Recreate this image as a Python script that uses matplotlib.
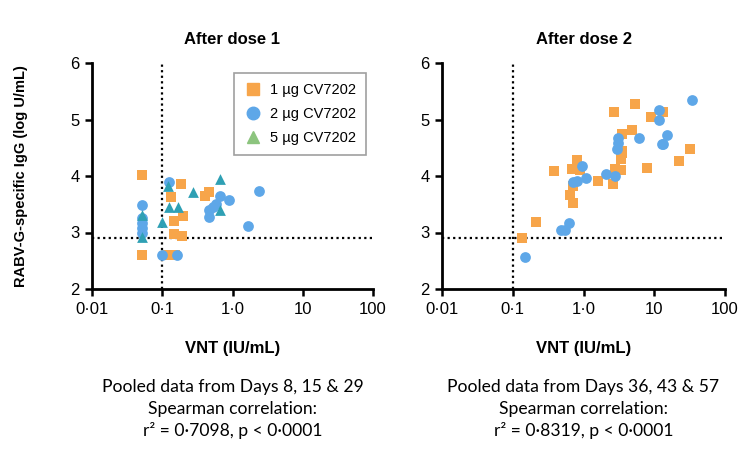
import matplotlib.pyplot as plt
from matplotlib.lines import Line2D

plt.rcParams['font.family'] = ['Liberation Sans', 'DejaVu Sans']

# After dose 1 (VNT IU/mL, log IgG)
d1_1ug_x = [0.051, 0.051, 0.134, 0.186, 0.145, 0.197, 0.145, 0.19, 0.112, 0.128, 0.15, 0.41, 0.46]
d1_1ug_y = [4.01, 2.6, 3.63, 3.86, 3.2, 3.29, 2.97, 2.94, 2.6, 2.6, 2.6, 3.65, 3.71]
d1_2ug_x = [0.051, 0.051, 0.051, 0.051, 0.051, 0.123, 0.1, 0.16, 0.46, 0.46, 0.53, 0.58,
            0.67, 0.88, 1.65, 2.4]
d1_2ug_y = [3.48, 3.26, 3.17, 3.08, 2.99, 3.89, 2.6, 2.6, 3.4, 3.27, 3.45, 3.5,
            3.65, 3.58, 3.12, 3.73]
d1_5ug_x = [0.051, 0.051, 0.1, 0.12, 0.123, 0.17, 0.27, 0.67, 0.67]
d1_5ug_y = [3.31, 2.92, 3.18, 3.82, 3.46, 3.46, 3.71, 3.94, 3.39]

# After dose 2
d2_1ug_x = [0.136, 0.215, 0.377, 0.65, 0.71, 0.72, 0.68, 0.81, 0.9, 1.58, 2.65, 2.74,
            2.8, 3.4, 3.4, 3.5, 3.5, 3.5, 4.9, 5.4, 7.8, 8.9, 13.5, 22.6, 32]
d2_1ug_y = [2.9, 3.19, 4.09, 3.66, 3.52, 3.82, 4.13, 4.28, 4.11, 3.92, 3.85, 5.14,
            4.12, 4.1, 4.3, 4.4, 4.45, 4.75, 4.82, 5.27, 4.14, 5.04, 5.13, 4.26, 4.47]
d2_2ug_x = [0.147, 0.48, 0.54, 0.62, 0.71, 0.81, 0.95, 1.09, 2.09, 2.8, 3.1, 3.1, 3.0,
            6.0, 11.8, 11.8, 13.5, 12.8, 15, 34.6]
d2_2ug_y = [2.57, 3.05, 3.05, 3.17, 3.9, 3.92, 4.17, 3.96, 4.04, 4.0, 4.68, 4.58, 4.47,
            4.67, 5.16, 5.0, 4.57, 4.57, 4.73, 5.34]

x_ticks = [0.01, 0.1, 1, 10, 100]
x_tick_labels = ['0·01', '0·1', '1·0', '10', '100']
y_ticks = [2, 3, 4, 5, 6]
lod_x = 0.1
lod_y = 2.9

c_orange = '#F7A54A'
c_blue = '#5EA7E8'
c_teal = '#2FA0B4'
c_green = '#8CC47E'

fig = plt.figure(figsize=(7.45, 4.5), dpi=100)
ax1 = fig.add_axes([92 / 745, 1 - 289 / 450, 281 / 745, 226 / 450])
ax2 = fig.add_axes([442 / 745, 1 - 289 / 450, 283 / 745, 226 / 450])


def style_axis(ax, title):
    ax.set_xscale('log')
    ax.set_xlim(0.01, 100)
    ax.set_ylim(2, 6)
    ax.set_xticks(x_ticks)
    ax.set_xticklabels(x_tick_labels)
    ax.minorticks_off()
    ax.set_yticks(y_ticks)
    ax.tick_params(axis='both', direction='out', length=5, width=1.8, labelsize=12, pad=4)
    for s in ['top', 'right']:
        ax.spines[s].set_visible(False)
    for s in ['left', 'bottom']:
        ax.spines[s].set_linewidth(2)
    ax.axvline(lod_x, color='black', linestyle=(0, (1, 1.5)), linewidth=1.6, zorder=1)
    ax.axhline(lod_y, color='black', linestyle=(0, (1, 1.5)), linewidth=1.6, zorder=1)
    ax.set_title(title, fontsize=12, fontweight='bold', pad=14)
    ax.set_xlabel('VNT (IU/mL)', fontsize=12, fontweight='bold', labelpad=18)


style_axis(ax1, 'After dose 1')
style_axis(ax2, 'After dose 2')

ax1.scatter(d1_1ug_x, d1_1ug_y, marker='s', s=60, color=c_orange, zorder=3, linewidths=0)
ax1.scatter(d1_2ug_x, d1_2ug_y, marker='o', s=60, color=c_blue, zorder=3, linewidths=0)
ax1.scatter(d1_5ug_x, d1_5ug_y, marker='^', s=60, color=c_teal, zorder=3, linewidths=0)

ax2.scatter(d2_1ug_x, d2_1ug_y, marker='s', s=60, color=c_orange, zorder=3, linewidths=0)
ax2.scatter(d2_2ug_x, d2_2ug_y, marker='o', s=60, color=c_blue, zorder=3, linewidths=0)

ax1.set_ylabel('RABV-G-specific IgG (log U/mL)', fontsize=10.5, fontweight='bold', labelpad=30)

handles = [
    Line2D([], [], marker='s', color=c_orange, linestyle='none', markersize=9),
    Line2D([], [], marker='o', color=c_blue, linestyle='none', markersize=9),
    Line2D([], [], marker='^', color=c_green, linestyle='none', markersize=9),
]
leg = ax1.legend(handles, ['1 µg CV7202', '2 µg CV7202', '5 µg CV7202'],
                 loc='upper right', bbox_to_anchor=(1.0, 0.99), fontsize=10.5,
                 frameon=True, fancybox=False, borderpad=0.7, labelspacing=0.7,
                 handletextpad=0.5, handlelength=1.2)
leg.get_frame().set_edgecolor('#888888')
leg.get_frame().set_linewidth(1.2)

notes = [
    (ax1, 'Pooled data from Days 8, 15 & 29\nSpearman correlation:\nr² = 0·7098, p < 0·0001'),
    (ax2, 'Pooled data from Days 36, 43 & 57\nSpearman correlation:\nr² = 0·8319, p < 0·0001'),
]
for ax, txt in notes:
    ax.text(0.5, -0.40, txt, transform=ax.transAxes, ha='center', va='top',
            fontsize=12.6, family=['Lato', 'DejaVu Sans'], linespacing=1.4)

fig.savefig('out.png', dpi=100)
